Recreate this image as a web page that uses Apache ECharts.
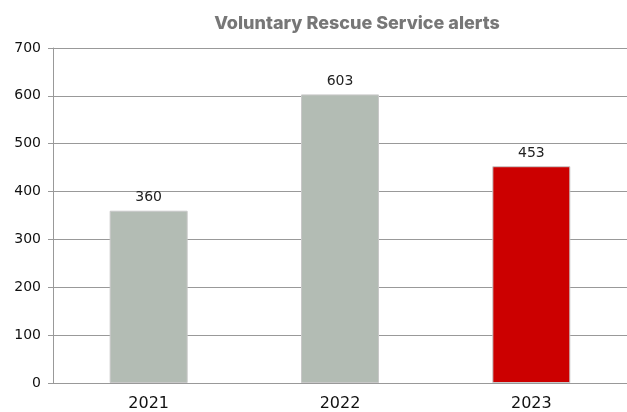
<!DOCTYPE html>
<html><head><meta charset="utf-8">
<script src="https://cdn.jsdelivr.net/npm/echarts@6/dist/echarts.min.js"></script>
<style>html,body{margin:0;padding:0;background:#fff}#c{width:627px;height:412px}</style>
</head><body><div id="c"></div>
<script>
const categories = ['2021', '2022', '2023'];
const alerts = [360, 603, 453];
const barColors = ['#b3bcb4', '#b3bcb4', '#cc0000'];
const yTicks = [0, 100, 200, 300, 400, 500, 600, 700];

const chart = echarts.init(document.getElementById('c'));
chart.setOption({
  animation: false,
  title: {
    text: 'Voluntary Rescue Service alerts',
    left: 352, top: 10, textAlign: 'center',
    textStyle: { fontFamily: 'Inter', fontWeight: 800, fontSize: 18, color: '#777777' }
  },
  grid: { left: 53, right: 0, top: 48, bottom: 29, containLabel: false },
  xAxis: {
    type: 'category', data: categories,
    axisLine: { lineStyle: { color: '#999', width: 1 } },
    axisTick: { show: false },
    axisLabel: { color: '#111', fontFamily: 'DejaVu Sans', fontSize: 16, margin: 13 }
  },
  yAxis: {
    type: 'value', min: yTicks[0], max: yTicks[yTicks.length - 1], interval: 100,
    axisLine: { show: true, lineStyle: { color: '#999', width: 1 } },
    axisTick: { show: true, length: 5, lineStyle: { color: '#999' } },
    splitLine: { lineStyle: { color: '#999', width: 1 } },
    axisLabel: { color: '#111', fontFamily: 'DejaVu Sans', fontSize: 14, margin: 12 }
  },
  series: [{
    type: 'bar', barWidth: 78,
    data: alerts.map((v, i) => ({ value: v, itemStyle: { color: barColors[i] } })),
    itemStyle: { borderColor: '#c8c8c8', borderWidth: 1 },
    label: { show: true, position: 'top', distance: 6, color: '#222', fontFamily: 'DejaVu Sans', fontSize: 14 }
  }]
});
</script></body></html>
